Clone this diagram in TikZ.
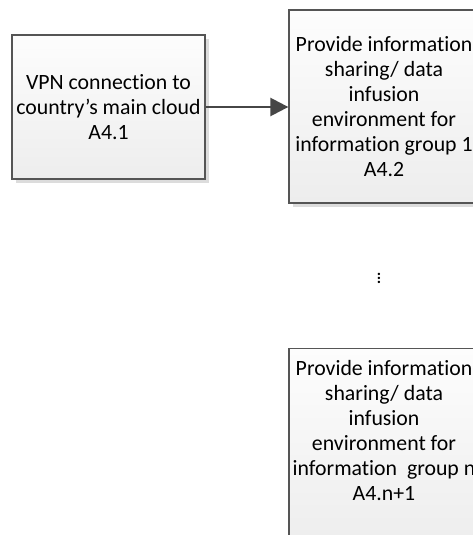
\documentclass[tikz,border=0pt]{standalone}
\usepackage{fontspec}
\setmainfont{Carlito}[Ligatures=NoCommon]
\usetikzlibrary{arrows.meta,shadows,positioning}

\begin{document}
\begin{tikzpicture}[x=1pt,y=-1pt,>={Triangle[length=18pt,width=18pt]},font=\fontsize{21.8}{25}\selectfont]
  %--- Theme colors ---
  \definecolor{BoxLine}{HTML}{555555}     % box border
  \definecolor{BoxTop}{HTML}{FDFDFD}      % fill, top
  \definecolor{BoxBottom}{HTML}{EDEDED}   % fill, bottom
  \definecolor{BoxShadow}{HTML}{DCDCDC}   % drop shadow
  \definecolor{ArrowLine}{HTML}{464646}   % connector

  \tikzset{
    actbox/.style={draw=BoxLine, line width=1.3pt, top color=BoxTop, bottom color=BoxBottom,
      align=center, inner sep=0pt,
      drop shadow={shadow xshift=4pt, shadow yshift=-4pt, fill=BoxShadow, opacity=1}},
  }

  \useasboundingbox (0,0) rectangle (473,535);

  %--- Activity boxes ---
  \node[actbox, minimum width=193pt, minimum height=144pt] (vpn) at (108.5,107)
    {VPN connection to\\country’s main cloud\\A4.1};
  \node[actbox, minimum width=190pt, minimum height=193pt] (grpone) at (384,106.5)
    {Provide information\\sharing/ data\\infusion\\environment for\\information group 1\\A4.2};
  \node[actbox, minimum width=190pt, minimum height=200pt, anchor=north] (grpn) at (384,348)
    {Provide information\\sharing/ data\\infusion\\environment for\\information~ group n\\A4.n+1\\[12pt]\mbox{}};

  %--- Ellipsis between the groups ---
  \node[font=\fontsize{16}{18}\selectfont\bfseries] (more) at (379,275) {\vdots};

  %--- Connector ---
  \draw[->, line width=2.5pt, ArrowLine] (vpn.east) -- (vpn.east -| grpone.west);
\end{tikzpicture}
\end{document}
